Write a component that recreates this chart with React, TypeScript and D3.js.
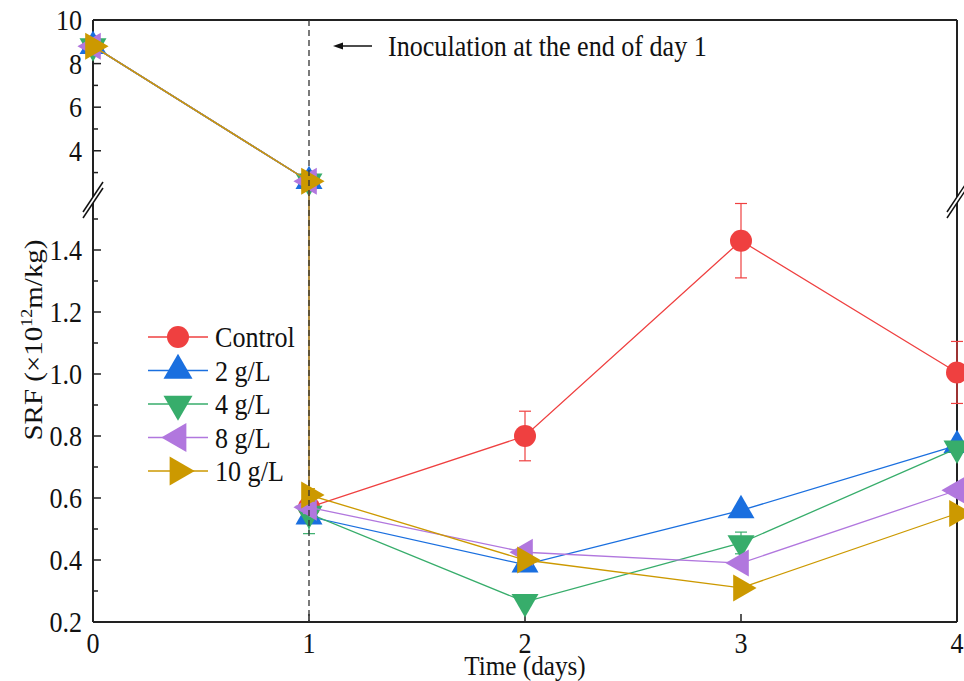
import React from 'react';
import * as d3 from 'd3';

// series info
const seriesNames = ['Control', '2 g/L', '4 g/L', '8 g/L', '10 g/L'];
const seriesColors = ['#EF4040', '#1A6FDF', '#37AD6B', '#B177DE', '#CC9900'];
const seriesShapes = ['circle', 'up', 'down', 'left', 'right'];

// days before / after the break
const upperDays = [0, 1];
const lowerDays = [1, 2, 3, 4];

// values above the break (before inoculation)
const controlUpper = [8.8, 2.6];
const g2Upper = [8.8, 2.6];
const g4Upper = [8.8, 2.6];
const g8Upper = [8.8, 2.6];
const g10Upper = [8.8, 2.6];

// values below the break
const controlLower = [0.57, 0.8, 1.43, 1.005];
const g2Lower = [0.54, 0.385, 0.56, 0.77];
const g4Lower = [0.55, 0.265, 0.455, 0.76];
const g8Lower = [0.57, 0.425, 0.39, 0.625];
const g10Lower = [0.61, 0.4, 0.31, 0.55];

// error bars (lower part)
const controlErr = [0.03, 0.08, 0.12, 0.1];
const g2Err = [0.02, 0.01, 0.01, 0.01];
const g4Err = [0.065, 0.005, 0.035, 0.01];
const g8Err = [0.02, 0.01, 0.01, 0.01];
const g10Err = [0.02, 0.01, 0.01, 0.01];

const upperValues = [controlUpper, g2Upper, g4Upper, g8Upper, g10Upper];
const lowerValues = [controlLower, g2Lower, g4Lower, g8Lower, g10Lower];
const errValues = [controlErr, g2Err, g4Err, g8Err, g10Err];

// ticks
const xTicks = [0, 1, 2, 3, 4];
const upperMajor = [4, 6, 8, 10];
const upperMinor = [3, 5, 7, 9];
const lowerMajor = [0.2, 0.4, 0.6, 0.8, 1.0, 1.2, 1.4];
const lowerMinor = [0.3, 0.5, 0.7, 0.9, 1.1, 1.3, 1.5];

const FONT = '"Liberation Serif", "Times New Roman", serif';
const FS = 29;
const SQ = 0.9; // glyphs in the original are narrow

function T({ x, y, anchor = 'start', size = FS, children }: any) {
  return (
    <text
      transform={`translate(${x},${y}) scale(${SQ},1)`}
      textAnchor={anchor}
      fontFamily={FONT}
      fontSize={size}
      fill="#111"
    >
      {children}
    </text>
  );
}

function marker(shape: string, side: number) {
  if (shape === 'circle') {
    return { d: d3.symbol().type(d3.symbolCircle).size(Math.PI * 11 * 11)()!, rot: 0 };
  }
  const area = (Math.sqrt(3) / 4) * side * side;
  const d = d3.symbol().type(d3.symbolTriangle).size(area)()!;
  const rot = shape === 'up' ? 0 : shape === 'down' ? 180 : shape === 'left' ? -90 : 90;
  return { d, rot };
}

export default function App() {
  const width = 964;
  const height = 681;

  const left = 93, right = 957, top = 20, bottom = 622;

  const x = d3.scaleLinear().domain([0, 4]).range([left, right]);
  const yUp = d3.scaleLinear().domain([2.2, 10]).range([190, top]);
  const yLow = d3.scaleLinear().domain([0.2, 1.55]).range([bottom, 203.5]);

  const line = d3.line<[number, number]>().x(d => d[0]).y(d => d[1]);

  const breakY = 200;
  const slash = (cx: number) => (
    <g>
      <polygon
        points={`${cx - 10},${breakY + 12} ${cx + 10},${breakY - 18} ${cx + 10},${breakY - 12} ${cx - 10},${breakY + 18}`}
        fill="#fff"
      />
      <line x1={cx - 10} y1={breakY + 12} x2={cx + 10} y2={breakY - 18} stroke="#111" strokeWidth={1.5} />
      <line x1={cx - 10} y1={breakY + 18} x2={cx + 10} y2={breakY - 12} stroke="#111" strokeWidth={1.5} />
    </g>
  );

  const legendX = 178;
  const legendY0 = 337;
  const legendStep = 33.5;

  return (
    <svg
      width={width}
      height={height}
      style={{ position: 'absolute', left: 0, top: 0, background: '#fff' }}
    >
      {/* frame */}
      <line x1={left} y1={top} x2={right} y2={top} stroke="#222" strokeWidth={2} />
      <line x1={right} y1={top} x2={right} y2={bottom} stroke="#222" strokeWidth={2} />
      <line x1={left} y1={top} x2={left} y2={bottom} stroke="#222" strokeWidth={2} />
      <line x1={left} y1={bottom} x2={right} y2={bottom} stroke="#222" strokeWidth={2} />

      {/* y ticks */}
      {upperMajor.map(v => (
        <g key={'um' + v}>
          <line x1={left} x2={left + 8} y1={yUp(v)} y2={yUp(v)} stroke="#222" strokeWidth={1.5} />
          <T x={82} y={yUp(v) + 10} anchor="end">{v}</T>
        </g>
      ))}
      {upperMinor.map(v => (
        <line key={'un' + v} x1={left} x2={left + 5} y1={yUp(v)} y2={yUp(v)} stroke="#222" strokeWidth={1.5} />
      ))}
      {lowerMajor.map(v => (
        <g key={'lm' + v}>
          <line x1={left} x2={left + 8} y1={yLow(v)} y2={yLow(v)} stroke="#222" strokeWidth={1.5} />
          <T x={82} y={yLow(v) + 10} anchor="end">{v.toFixed(1)}</T>
        </g>
      ))}
      {lowerMinor.map(v => (
        <line key={'ln' + v} x1={left} x2={left + 5} y1={yLow(v)} y2={yLow(v)} stroke="#222" strokeWidth={1.5} />
      ))}

      {/* x ticks */}
      {xTicks.map(v => (
        <g key={'x' + v}>
          <line x1={x(v)} x2={x(v)} y1={bottom} y2={bottom - 8} stroke="#222" strokeWidth={1.5} />
          <T x={x(v)} y={653} anchor="middle">{v}</T>
        </g>
      ))}

      {/* axis breaks */}
      {slash(left)}
      {slash(right)}

      {/* axis titles */}
      <T x={525} y={675} anchor="middle" size={28}>Time (days)</T>
      <text
        transform={`translate(42,340) rotate(-90) scale(1,${SQ})`}
        textAnchor="middle"
        fontFamily={FONT}
        fontSize={FS}
        fill="#111"
      >
        SRF (×10<tspan dy={-11} fontSize={18}>12</tspan><tspan dy={11}>m/kg)</tspan>
      </text>

      {/* series */}
      {seriesNames.map((name, i) => {
        const col = seriesColors[i];
        const pts: [number, number][] = [
          ...upperDays.map((d, j) => [x(d), yUp(upperValues[i][j])] as [number, number]),
          ...lowerDays.map((d, j) => [x(d), yLow(lowerValues[i][j])] as [number, number]),
        ];
        const m = marker(seriesShapes[i], 27);
        return (
          <g key={name}>
            {lowerDays.map((d, j) => {
              const v = lowerValues[i][j];
              const e = errValues[i][j];
              const cx = x(d);
              return (
                <g key={j} stroke={col} strokeWidth={1.2}>
                  <line x1={cx} x2={cx} y1={yLow(v - e)} y2={yLow(v + e)} />
                  <line x1={cx - 6} x2={cx + 6} y1={yLow(v - e)} y2={yLow(v - e)} />
                  <line x1={cx - 6} x2={cx + 6} y1={yLow(v + e)} y2={yLow(v + e)} />
                </g>
              );
            })}
            <path d={line(pts)!} fill="none" stroke={col} strokeWidth={1.3} />
            {pts.map((p, j) => (
              <path
                key={j}
                d={m.d}
                transform={`translate(${p[0]},${p[1]}) rotate(${m.rot})`}
                fill={col}
              />
            ))}
          </g>
        );
      })}

      {/* inoculation marker */}
      <line x1={x(1)} x2={x(1)} y1={top} y2={bottom} stroke="#333" strokeWidth={1.3} strokeDasharray="6,4" />
      <line x1={340} x2={372} y1={46} y2={46} stroke="#111" strokeWidth={1.5} />
      <path d="M333,46 L343,42.5 L343,49.5 Z" fill="#111" />
      <T x={388} y={56}>Inoculation at the end of day 1</T>

      {/* legend */}
      {seriesNames.map((name, i) => {
        const y = legendY0 + i * legendStep;
        const m = marker(seriesShapes[i], 29);
        return (
          <g key={'lg' + name}>
            <line x1={legendX - 30} x2={legendX + 30} y1={y} y2={y} stroke={seriesColors[i]} strokeWidth={1.3} />
            <path d={m.d} transform={`translate(${legendX},${y}) rotate(${m.rot})`} fill={seriesColors[i]} />
            <T x={215} y={y + 10}>{name}</T>
          </g>
        );
      })}
    </svg>
  );
}
